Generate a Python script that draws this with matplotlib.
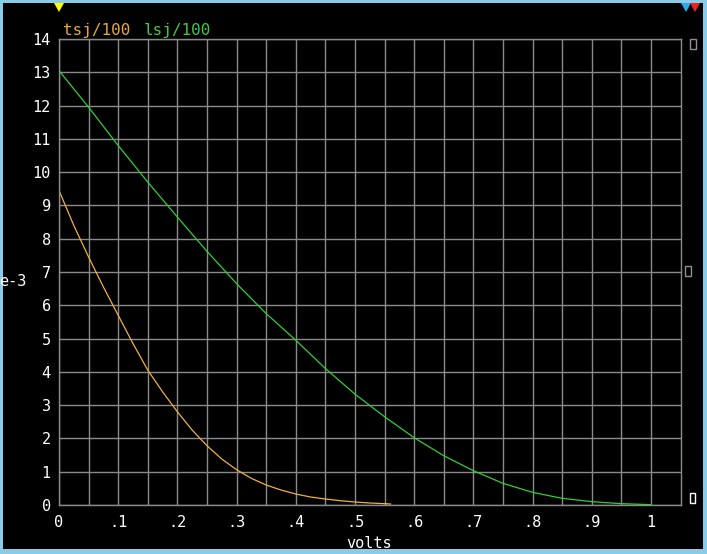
import matplotlib
matplotlib.use("Agg")
import matplotlib.pyplot as plt
from matplotlib.patches import Rectangle, Polygon

# ---- data (values in units of 1e-3) ----
tsj_volts = [0, 0.025, 0.05, 0.075, 0.1, 0.125, 0.15, 0.175, 0.2, 0.225, 0.25,
             0.275, 0.3, 0.325, 0.35, 0.375, 0.4, 0.425, 0.45, 0.475, 0.5,
             0.525, 0.55, 0.56]
tsj_vals = [9.45, 8.4, 7.45, 6.55, 5.7, 4.85, 4.05, 3.4, 2.8, 2.25, 1.78,
            1.38, 1.06, 0.8, 0.6, 0.45, 0.33, 0.24, 0.18, 0.13, 0.09,
            0.06, 0.04, 0.03]
lsj_volts = [0, 0.05, 0.1, 0.15, 0.2, 0.25, 0.3, 0.35, 0.4, 0.45, 0.5,
             0.55, 0.6, 0.65, 0.7, 0.75, 0.8, 0.85, 0.9, 0.95, 1.0]
lsj_vals = [13.05, 11.95, 10.8, 9.7, 8.65, 7.62, 6.65, 5.75, 4.95, 4.1, 3.33,
            2.65, 2.02, 1.48, 1.03, 0.65, 0.38, 0.2, 0.1, 0.04, 0.01]
series_names = ["tsj/100", "lsj/100"]
x_ticks = [0, 0.1, 0.2, 0.3, 0.4, 0.5, 0.6, 0.7, 0.8, 0.9, 1.0]
x_tick_labels = ["0", ".1", ".2", ".3", ".4", ".5", ".6", ".7", ".8", ".9", "1"]
y_ticks = list(range(0, 15))

W, H = 707, 554
fig = plt.figure(figsize=(W / 100, H / 100), dpi=100, facecolor="black")

def fx(px):
    return px / W

def fy(py):
    return 1 - py / H

ax = fig.add_axes([fx(59), fy(505), fx(680.6) - fx(59), fy(39) - fy(505)])
ax.set_facecolor("black")
ax.set_xlim(0, 1.05)
ax.set_ylim(0, 14)

grid_c = "#8a8a8a"
ax.set_xticks(x_ticks)
ax.set_xticklabels(x_tick_labels)
ax.set_xticks([0.05 * i for i in range(0, 21, 2)] + [0.05 * i for i in range(1, 21, 2)], minor=False)
ax.set_xticks(x_ticks)
ax.set_xticklabels(x_tick_labels)
ax.set_xticks([0.05 + 0.1 * i for i in range(10)], minor=True)
ax.set_yticks(y_ticks)
ax.set_yticklabels([str(v) for v in y_ticks])
ax.grid(True, which="both", color=grid_c, linewidth=1.0)
ax.set_axisbelow(True)
for s in ax.spines.values():
    s.set_color(grid_c)
    s.set_linewidth(1.0)
ax.tick_params(which="both", length=0, colors="white", labelsize=11)
ax.tick_params(axis="x", pad=7)
ax.tick_params(axis="y", pad=6)
for lab in ax.get_xticklabels() + ax.get_yticklabels():
    lab.set_family("DejaVu Sans Mono")

orange = "#f0b040"
green = "#30d030"
ax.plot(tsj_volts, tsj_vals, color=orange, linewidth=0.9)
ax.plot(lsj_volts, lsj_vals, color=green, linewidth=0.9)

# legend-like labels
fig.text(fx(63), fy(30), series_names[0], color="#e8a838", fontsize=11.5,
         family="DejaVu Sans Mono", va="center", ha="left")
fig.text(fx(144), fy(30), series_names[1], color="#40c840", fontsize=11.5,
         family="DejaVu Sans Mono", va="center", ha="left")

fig.text(fx(369), fy(543), "volts", color="white", fontsize=11,
         family="DejaVu Sans Mono", va="center", ha="center")
fig.text(fx(-1), fy(282), "e-3", color="white", fontsize=11,
         family="DejaVu Sans Mono", va="center", ha="left")

# markers on top
def tri(cx, color):
    fig.patches.append(Polygon([(fx(cx - 5), fy(3)), (fx(cx + 5), fy(3)), (fx(cx), fy(12))],
                               closed=True, facecolor=color, edgecolor="none",
                               transform=fig.transFigure))

tri(59, "#ffff00")
tri(686, "#30a8f0")
tri(695, "#f02020")

# small placeholder boxes on the right
for (x0, y0, x1, y1, c) in [(690, 39, 696, 49, "#909090"), (685, 266, 691, 276, "#909090"),
                            (690, 493, 695, 503, "#ffffff")]:
    fig.patches.append(Rectangle((fx(x0), fy(y1)), fx(x1) - fx(x0), fy(y0) - fy(y1),
                                 facecolor="none", edgecolor=c, linewidth=1.0,
                                 transform=fig.transFigure))

# light blue window border
border = "#8ccbe8"
for (x0, y0, x1, y1) in [(0, 0, 3, H), (0, 0, W, 3), (703, 0, W, H), (0, 549, W, H)]:
    fig.patches.append(Rectangle((fx(x0), fy(y1)), fx(x1) - fx(x0), fy(y0) - fy(y1),
                                 facecolor=border, edgecolor="none",
                                 transform=fig.transFigure))

fig.savefig("out.png", dpi=100, facecolor="black")
